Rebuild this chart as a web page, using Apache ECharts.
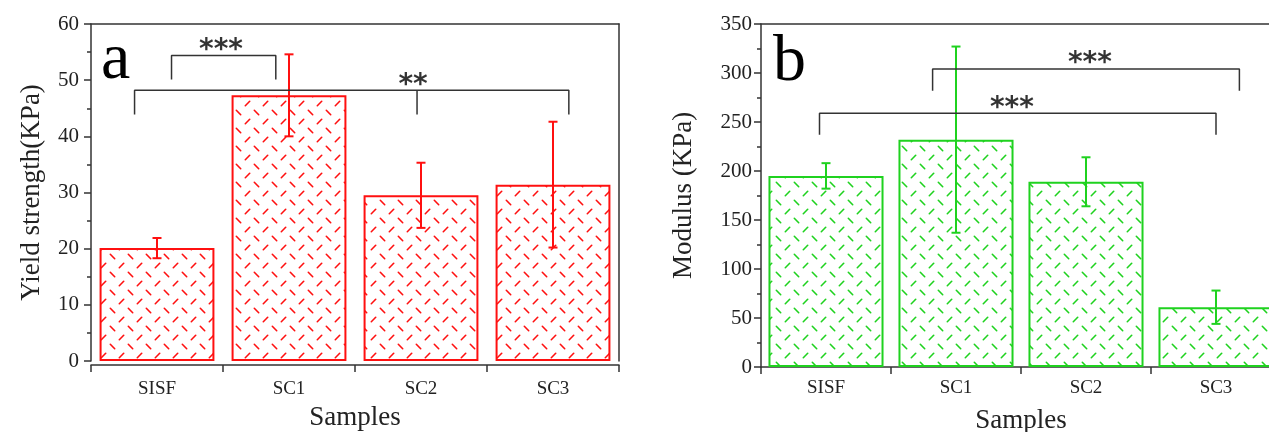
<!DOCTYPE html>
<html><head><meta charset="utf-8">
<script src="https://cdn.jsdelivr.net/npm/echarts@6/dist/echarts.min.js"></script>
<style>html,body{margin:0;padding:0;background:#fff}#c{width:1269px;height:432px}</style>
</head><body><div id="c"></div>
<script>
// ---------- data ----------
const categories = ['SISF', 'SC1', 'SC2', 'SC3'];
const yieldValues = [20.1, 47.3, 29.5, 31.4];
const yieldErrors = [1.8, 7.3, 5.8, 11.2];
const modulusValues = [195, 232, 189, 61];
const modulusErrors = [13, 95, 25, 17];
const yieldTicks = { min: 0, max: 60, interval: 10 };
const modulusTicks = { min: 0, max: 350, interval: 50 };
// significance brackets (x in category-index units, y in data units)
const yieldBrackets = [
  { x0: 0.11, x1: 0.90, top: 54.4, leg: 50.1, mid: null },
  { x0: -0.17, x1: 3.12, top: 48.2, leg: 43.9, mid: 1.97 }
];
const yieldStars = [[0.485, 56.4, '***'], [1.94, 50.1, '**']];
const modulusBrackets = [
  { x0: 0.82, x1: 3.18, top: 304, leg: 282, mid: null },
  { x0: -0.05, x1: 3.0, top: 259, leg: 237, mid: null }
];
const modulusStars = [[2.03, 316, '***'], [1.43, 270, '***']];
const panelLabels = ['a', 'b'];

// ---------- helpers ----------
const SERIF = '"Liberation Serif", "Times New Roman", serif';
const AX = '#333';
const RED = '#ff1010';
const GREEN = '#1fd21f';

function makePattern(color) {
  const c = document.createElement('canvas');
  c.width = 18; c.height = 18;
  const g = c.getContext('2d');
  g.fillStyle = '#fff'; g.fillRect(0, 0, 18, 18);
  g.strokeStyle = color; g.lineWidth = 1.6; g.lineCap = 'round';
  const d = 2.2;
  g.beginPath(); g.moveTo(4.5 - d, 4.5 - d); g.lineTo(4.5 + d, 4.5 + d); g.stroke();
  g.beginPath(); g.moveTo(13.5 - d, 13.5 + d); g.lineTo(13.5 + d, 13.5 - d); g.stroke();
  return c;
}

function errorSeries(values, errors, color, xi, yi) {
  return {
    type: 'custom', xAxisIndex: xi, yAxisIndex: yi, z: 5, silent: true,
    data: values.map((v, i) => [i, v + errors[i], v - errors[i]]),
    renderItem(params, api) {
      const hi = api.coord([api.value(0), api.value(1)]);
      const lo = api.coord([api.value(0), api.value(2)]);
      const w = 4.5;
      const st = { stroke: color, lineWidth: 2 };
      return { type: 'group', children: [
        { type: 'line', shape: { x1: hi[0], y1: hi[1], x2: lo[0], y2: lo[1] }, style: st },
        { type: 'line', shape: { x1: hi[0] - w, y1: hi[1], x2: hi[0] + w, y2: hi[1] }, style: st },
        { type: 'line', shape: { x1: lo[0] - w, y1: lo[1], x2: lo[0] + w, y2: lo[1] }, style: st }
      ] };
    }
  };
}

function bracketSeries(brackets, xi, yi) {
  const out = [];
  brackets.forEach(b => {
    out.push({ type: 'line', xAxisIndex: xi, yAxisIndex: yi, silent: true, symbol: 'none', z: 6,
      lineStyle: { color: AX, width: 1.5 },
      data: [[b.x0, b.leg], [b.x0, b.top], [b.x1, b.top], [b.x1, b.leg]] });
    if (b.mid !== null) {
      out.push({ type: 'line', xAxisIndex: xi, yAxisIndex: yi, silent: true, symbol: 'none', z: 6,
        lineStyle: { color: AX, width: 1.5 },
        data: [[b.mid, b.top], [b.mid, b.leg]] });
    }
  });
  return out;
}

function starSeries(stars, xi, yi) {
  return { type: 'scatter', xAxisIndex: xi, yAxisIndex: yi, silent: true, symbolSize: 0, z: 7,
    data: stars,
    label: { show: true, position: 'inside', formatter: p => p.value[2],
      fontFamily: '"DejaVu Sans", sans-serif', fontWeight: 'bold', fontSize: 28, color: '#000', offset: [0, 6] } };
}

function catAxis(gi, nameGap, labelMargin, offset) {
  return { type: 'category', gridIndex: gi, data: categories, position: 'bottom', offset: offset,
    axisLine: { show: true, onZero: false, lineStyle: { color: AX, width: 1.5 } },
    axisTick: { show: true, length: 7, lineStyle: { color: AX, width: 1.5 } },
    axisLabel: { fontFamily: SERIF, fontSize: 19, color: '#222', margin: labelMargin },
    name: 'Samples', nameLocation: 'middle', nameGap: nameGap,
    nameTextStyle: { fontFamily: SERIF, fontSize: 27, color: '#222' } };
}
function hiddenX(gi) {
  return { type: 'value', gridIndex: gi, min: -0.5, max: 3.5, show: false,
    axisLine: { show: false, onZero: false } };
}
function frameX(gi) {
  return { type: 'category', gridIndex: gi, data: categories, position: 'top',
    axisLine: { show: true, onZero: false, lineStyle: { color: AX, width: 1.5 } },
    axisTick: { show: false }, axisLabel: { show: false } };
}
function valAxis(gi, t, name, nameGap, labelMargin) {
  return { type: 'value', gridIndex: gi, min: t.min, max: t.max, interval: t.interval, position: 'left',
    axisLine: { show: true, onZero: false, lineStyle: { color: AX, width: 1.5 } },
    axisTick: { show: true, length: 7, lineStyle: { color: AX, width: 1.5 } },
    minorTick: { show: true, splitNumber: 2, length: 4, lineStyle: { color: AX, width: 1.5 } },
    splitLine: { show: false },
    axisLabel: { fontFamily: SERIF, fontSize: 21, color: '#222', margin: labelMargin },
    name: name, nameLocation: 'middle', nameGap: nameGap,
    nameTextStyle: { fontFamily: SERIF, fontSize: 27, color: '#222' } };
}
function frameY(gi, t) {
  return { type: 'value', gridIndex: gi, min: t.min, max: t.max, position: 'right',
    axisLine: { show: true, onZero: false, lineStyle: { color: AX, width: 1.5 } },
    axisTick: { show: false }, axisLabel: { show: false }, splitLine: { show: false } };
}

const chart = echarts.init(document.getElementById('c'), null, { renderer: 'canvas' });
chart.setOption({
  animation: false,
  backgroundColor: '#fff',
  grid: [
    { left: 91, top: 24, width: 528, height: 337, containLabel: false, outerBoundsMode: 'none' },
    { left: 761, top: 24, width: 520, height: 343, containLabel: false, outerBoundsMode: 'none' }
  ],
  xAxis: [
    catAxis(0, 39, 15, 4), hiddenX(0), frameX(0),
    catAxis(1, 40, 12, 0), hiddenX(1), frameX(1)
  ],
  yAxis: [
    valAxis(0, yieldTicks, 'Yield strength(KPa)', 46, 12), frameY(0, yieldTicks),
    valAxis(1, modulusTicks, 'Modulus (KPa)', 64, 9), frameY(1, modulusTicks)
  ],
  graphic: [
    { type: 'text', left: 101, top: 28, style: { text: panelLabels[0], font: '66px ' + SERIF, fill: '#000' } },
    { type: 'text', left: 773, top: 30, style: { text: panelLabels[1], font: '66px ' + SERIF, fill: '#000' } }
  ],
  series: [
    { type: 'bar', xAxisIndex: 0, yAxisIndex: 0, data: yieldValues, barCategoryGap: '13%',
      itemStyle: { color: { image: makePattern(RED), repeat: 'repeat' }, borderColor: RED, borderWidth: 2 } },
    errorSeries(yieldValues, yieldErrors, RED, 0, 0),
    ...bracketSeries(yieldBrackets, 1, 0),
    starSeries(yieldStars, 1, 0),
    { type: 'bar', xAxisIndex: 3, yAxisIndex: 2, data: modulusValues, barCategoryGap: '11.5%',
      itemStyle: { color: { image: makePattern(GREEN), repeat: 'repeat' }, borderColor: GREEN, borderWidth: 2 } },
    errorSeries(modulusValues, modulusErrors, GREEN, 3, 2),
    ...bracketSeries(modulusBrackets, 4, 2),
    starSeries(modulusStars, 4, 2)
  ]
});
</script>
</body></html>
